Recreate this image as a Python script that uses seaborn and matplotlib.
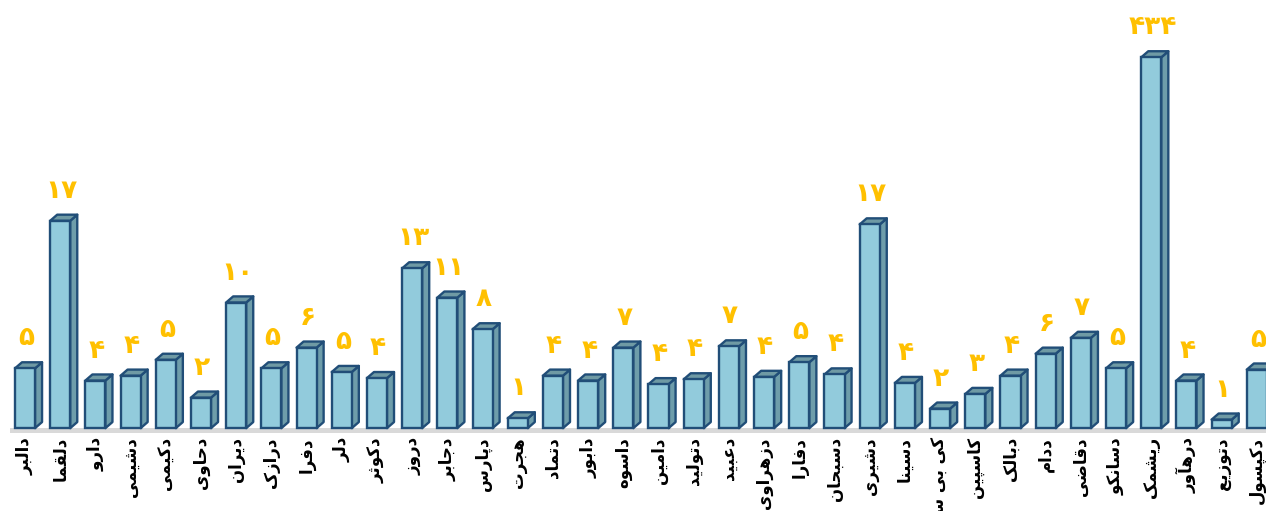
import matplotlib
matplotlib.use("Agg")
import matplotlib.pyplot as plt
import seaborn as sns
import pandas as pd
from matplotlib.patches import Polygon

# ---------------- data ----------------
categories = ["دالبر", "دلقما", "دارو", "دشیمی", "دکیمی", "دحاوی", "دیران", "درازک",
              "دفرا", "دلر", "دکوثر", "دروز", "دجابر", "دپارس", "هجرت", "دتماد",
              "دابور", "داسوه", "دامین", "دتولید", "دعبید", "دزهراوی", "دفارا", "دسبحان",
              "دشیری", "دسینا", "کی بی سی", "کاسپین", "دبالک", "ددام", "دقاضی", "دسانکو",
              "ریشمک", "درهآور", "دتوزیع", "دکپسول"]
# numbers printed above the bars
values = [5, 17, 4, 4, 5, 2, 10, 5, 6, 5, 4, 13, 11, 8, 1, 4,
          4, 7, 4, 4, 7, 4, 5, 4, 17, 4, 2, 3, 4, 6, 7, 5,
          434, 4, 1, 5]
# drawn bar heights
bar_heights = [4.9, 17.0, 3.9, 4.3, 5.6, 2.5, 10.3, 4.9, 6.6, 4.6, 4.1, 13.1, 10.7, 8.1, 0.8, 4.3,
               3.9, 6.6, 3.6, 4.0, 6.7, 4.2, 5.4, 4.4, 16.7, 3.7, 1.6, 2.8, 4.3, 6.1, 7.4, 4.9,
               30.4, 3.9, 0.7, 4.8]

# ---------------- Arabic / Persian shaping ----------------
FORMS = {
    "ا": ("\uFE8D", "\uFE8E"), "آ": ("\uFE81", "\uFE82"),
    "ب": ("\uFE8F", "\uFE90", "\uFE91", "\uFE92"), "پ": ("\uFB56", "\uFB57", "\uFB58", "\uFB59"),
    "ت": ("\uFE95", "\uFE96", "\uFE97", "\uFE98"), "ث": ("\uFE99", "\uFE9A", "\uFE9B", "\uFE9C"),
    "ج": ("\uFE9D", "\uFE9E", "\uFE9F", "\uFEA0"), "چ": ("\uFB7A", "\uFB7B", "\uFB7C", "\uFB7D"),
    "ح": ("\uFEA1", "\uFEA2", "\uFEA3", "\uFEA4"), "خ": ("\uFEA5", "\uFEA6", "\uFEA7", "\uFEA8"),
    "د": ("\uFEA9", "\uFEAA"), "ذ": ("\uFEAB", "\uFEAC"), "ر": ("\uFEAD", "\uFEAE"),
    "ز": ("\uFEAF", "\uFEB0"), "ژ": ("\uFB8A", "\uFB8B"),
    "س": ("\uFEB1", "\uFEB2", "\uFEB3", "\uFEB4"), "ش": ("\uFEB5", "\uFEB6", "\uFEB7", "\uFEB8"),
    "ص": ("\uFEB9", "\uFEBA", "\uFEBB", "\uFEBC"), "ض": ("\uFEBD", "\uFEBE", "\uFEBF", "\uFEC0"),
    "ط": ("\uFEC1", "\uFEC2", "\uFEC3", "\uFEC4"), "ظ": ("\uFEC5", "\uFEC6", "\uFEC7", "\uFEC8"),
    "ع": ("\uFEC9", "\uFECA", "\uFECB", "\uFECC"), "غ": ("\uFECD", "\uFECE", "\uFECF", "\uFED0"),
    "ف": ("\uFED1", "\uFED2", "\uFED3", "\uFED4"), "ق": ("\uFED5", "\uFED6", "\uFED7", "\uFED8"),
    "ک": ("\uFB8E", "\uFB8F", "\uFB90", "\uFB91"), "گ": ("\uFB92", "\uFB93", "\uFB94", "\uFB95"),
    "ل": ("\uFEDD", "\uFEDE", "\uFEDF", "\uFEE0"), "م": ("\uFEE1", "\uFEE2", "\uFEE3", "\uFEE4"),
    "ن": ("\uFEE5", "\uFEE6", "\uFEE7", "\uFEE8"), "و": ("\uFEED", "\uFEEE"),
    "ه": ("\uFEE9", "\uFEEA", "\uFEEB", "\uFEEC"), "ی": ("\uFBFC", "\uFBFD", "\uFBFE", "\uFBFF"),
}
LAM_ALEF = {"ا": ("\uFEFB", "\uFEFC"), "آ": ("\uFEF5", "\uFEF6")}


def shape(text):
    chars = list(text)
    out = []
    i = 0
    while i < len(chars):
        c = chars[i]
        prev = chars[i - 1] if i > 0 else None
        nxt = chars[i + 1] if i + 1 < len(chars) else None
        joins_prev = prev in FORMS and len(FORMS[prev]) == 4
        if c not in FORMS:
            out.append(c)
            i += 1
            continue
        if c == "ل" and nxt in LAM_ALEF:
            out.append(LAM_ALEF[nxt][1 if joins_prev else 0])
            i += 2
            continue
        f = FORMS[c]
        joins_next = len(f) == 4 and nxt in FORMS
        if joins_prev and joins_next:
            out.append(f[3])
        elif joins_prev:
            out.append(f[1])
        elif joins_next:
            out.append(f[2])
        else:
            out.append(f[0])
        i += 1
    return "".join(reversed(out))


def fa_digits(n):
    return str(n).translate(str.maketrans("0123456789", "۰۱۲۳۴۵۶۷۸۹"))


# ---------------- plot ----------------
sns.set_style("white")
plt.rcParams["font.family"] = ["DejaVu Sans"]

df = pd.DataFrame({"cat": categories, "h": bar_heights})

fig = plt.figure(figsize=(12.66, 5.11), dpi=100)
ax = fig.add_axes([0, 0.1526, 1, 0.8474])

FRONT = "#92CBDC"
SIDE = "#6E9DAA"
TOP = "#6F9AA4"
EDGE = "#214E78"

sns.barplot(data=df, x="cat", y="h", ax=ax, color=FRONT, saturation=1,
            width=0.57, edgecolor=EDGE, linewidth=1.7, zorder=3)

ax.set_xlim(-0.71, 35.26)
ax.set_ylim(-0.4, 35.1)

# pseudo-3D depth
dx = 0.2
dy = 0.5
for bar, v in zip(ax.patches, values):
    x0 = bar.get_x()
    w = bar.get_width()
    h = bar.get_height()
    side = Polygon([(x0 + w, 0), (x0 + w + dx, dy), (x0 + w + dx, h + dy), (x0 + w, h)],
                   closed=True, facecolor=SIDE, edgecolor=EDGE, linewidth=1.7, zorder=2,
                   joinstyle="round")
    top = Polygon([(x0, h), (x0 + dx, h + dy), (x0 + w + dx, h + dy), (x0 + w, h)],
                  closed=True, facecolor=TOP, edgecolor=EDGE, linewidth=1.7, zorder=2,
                  joinstyle="round")
    ax.add_patch(side)
    ax.add_patch(top)
    ax.annotate(fa_digits(v), (x0 + w / 2 + 0.03, h), xytext=(0, 30), textcoords="offset pixels",
                ha="center", va="center", fontsize=19, fontweight="bold", color="#FFC000",
                annotation_clip=False)

# floor
ax.axhspan(-0.38, 0, xmin=0.008, color="#D9D9D9", zorder=1, lw=0)

ax.set_xticks(range(len(categories)))
ax.set_xticklabels([shape(c) for c in categories], rotation=90, fontsize=12,
                   fontweight="bold", color="black")
ax.tick_params(axis="x", length=0, pad=3)
ax.set_yticks([])
ax.set_xlabel("")
ax.set_ylabel("")
for s in ax.spines.values():
    s.set_visible(False)

fig.savefig("out.png", dpi=100)
